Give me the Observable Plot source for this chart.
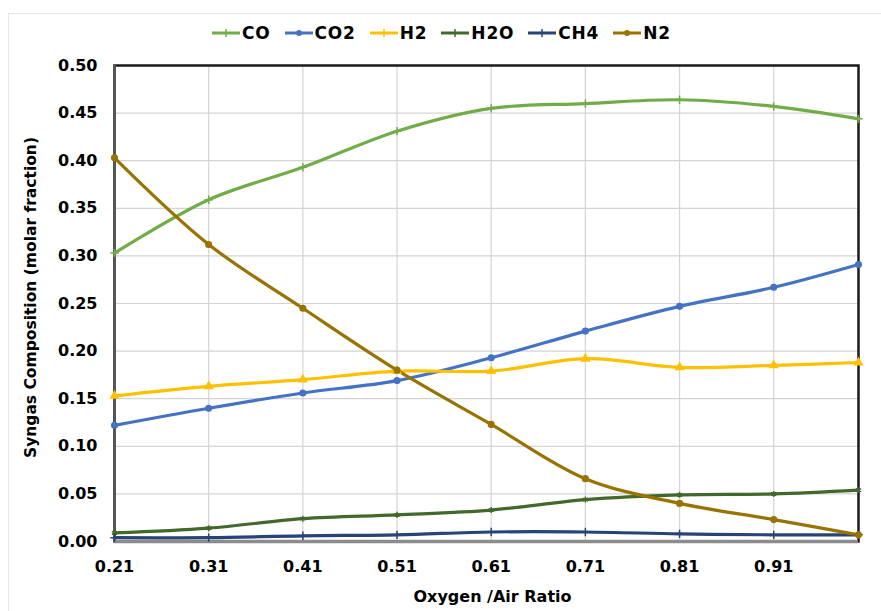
<!DOCTYPE html>
<html>
<head>
<meta charset="utf-8">
<script src="https://cdn.jsdelivr.net/npm/d3@7"></script>
<script src="https://cdn.jsdelivr.net/npm/@observablehq/plot@0.6"></script>
<style>
  html, body { margin: 0; padding: 0; background: #fff; }
  #wrap { position: relative; width: 881px; height: 611px; overflow: hidden; font-family: "DejaVu Sans", sans-serif; }
  #border { position: absolute; left: 8px; top: 13px; width: 900px; height: 700px; border-top: 1.5px solid #e6e6e6; border-left: 1.5px solid #e6e6e6; }
  #legend { position: absolute; left: 212px; top: 22px; height: 22px; display: flex; align-items: center; gap: 14px; font-weight: bold; font-size: 17px; letter-spacing: 0.8px; color: #000; }
  .item { display: flex; align-items: center; gap: 2px; }
  #chart { position: absolute; left: 0; top: 50px; }
</style>
</head>
<body>
<div id="wrap">
  <div id="border"></div>
  <div id="legend"></div>
  <div id="chart"></div>
</div>
<script>
const ratio = [0.21, 0.31, 0.41, 0.51, 0.61, 0.71, 0.81, 0.91, 1.0];
const xTicks = [0.21, 0.31, 0.41, 0.51, 0.61, 0.71, 0.81, 0.91];
const yTicks = [0, 0.05, 0.10, 0.15, 0.20, 0.25, 0.30, 0.35, 0.40, 0.45, 0.50];
const seriesNames = ["CO", "CO2", "H2", "H2O", "CH4", "N2"];
const seriesColors = ["#70AD47", "#4472C4", "#FFC000", "#43682B", "#264478", "#997300"];
const seriesSymbols = ["plus", "circle", "triangle", "asterisk", "plus", "circle"];

const CO  = [0.303, 0.359, 0.393, 0.431, 0.455, 0.460, 0.464, 0.457, 0.444];
const CO2 = [0.122, 0.140, 0.156, 0.169, 0.193, 0.221, 0.247, 0.267, 0.291];
const H2  = [0.153, 0.163, 0.170, 0.179, 0.179, 0.192, 0.183, 0.185, 0.188];
const H2O = [0.009, 0.014, 0.024, 0.028, 0.033, 0.044, 0.049, 0.050, 0.054];
const CH4 = [0.004, 0.004, 0.006, 0.007, 0.010, 0.010, 0.008, 0.007, 0.007];
const N2  = [0.403, 0.312, 0.245, 0.180, 0.123, 0.066, 0.040, 0.023, 0.007];

const seriesValues = [CO, CO2, H2, H2O, CH4, N2];
const data = [];
seriesNames.forEach((name, i) => {
  seriesValues[i].forEach((v, j) => data.push({series: name, x: ratio[j], y: v}));
});

// Legend
const legend = document.getElementById("legend");
seriesNames.forEach((name, i) => {
  const item = document.createElement("div");
  item.className = "item";
  const c = seriesColors[i];
  item.innerHTML = `<svg width="28" height="10"><line x1="0" y1="5" x2="28" y2="5" stroke="${c}" stroke-width="3"/>` +
    (seriesSymbols[i] === "circle" ? `<circle cx="14" cy="5" r="3" fill="${c}"/>` :
     `<line x1="14" y1="1" x2="14" y2="9" stroke="${c}" stroke-width="1.5"/>`) +
    `</svg><span>${name}</span>`;
  legend.appendChild(item);
});

const chart = Plot.plot({
  width: 881,
  height: 561,
  marginTop: 15,
  marginBottom: 70,
  marginLeft: 114,
  marginRight: 23,
  style: {fontFamily: "DejaVu Sans, sans-serif", fontSize: "16px", fontWeight: "bold", color: "#000", background: "transparent"},
  x: {domain: [0.21, 1.0]},
  y: {domain: [0, 0.5]},
  color: {domain: seriesNames, range: seriesColors},
  symbol: {domain: seriesNames, range: seriesSymbols},
  marks: [
    Plot.gridY(yTicks, {stroke: "#d4d4d4", strokeOpacity: 1, strokeWidth: 1.2}),
    Plot.gridX(xTicks, {stroke: "#d4d4d4", strokeOpacity: 1, strokeWidth: 1.2}),
    Plot.axisY(yTicks, {tickSize: 0, tickPadding: 17, tickFormat: d => d.toFixed(2), label: null}),
    Plot.axisX(xTicks, {tickSize: 0, tickPadding: 19, tickFormat: d => d.toFixed(2), label: null}),
    Plot.text(["Oxygen /Air Ratio"], {frameAnchor: "bottom", dy: 55, dx: 6, lineAnchor: "middle", textAnchor: "middle", fontSize: 16, fontWeight: "bold", letterSpacing: 1.2}),
    Plot.text(["Syngas Composition (molar fraction)"], {frameAnchor: "left", rotate: -90, dx: -83, dy: -6, lineAnchor: "middle", textAnchor: "middle", fontSize: 15.5, fontWeight: "bold"}),
    Plot.frame({stroke: "#1a1a1a", strokeWidth: 2.5}),
    Plot.ruleX([0.21], {stroke: "#555", strokeWidth: 3}),
    Plot.ruleY([0], {stroke: "#8c8c8c", strokeWidth: 3.5}),
    Plot.line(data, {x: "x", y: "y", z: "series", stroke: "series", curve: "catmull-rom", strokeWidth: 3.2}),
    Plot.dot(data, {x: "x", y: "y", stroke: "series", fill: "series", symbol: "series", r: 2.8, strokeWidth: 1.5})
  ]
});
document.getElementById("chart").appendChild(chart);
</script>
</body>
</html>
